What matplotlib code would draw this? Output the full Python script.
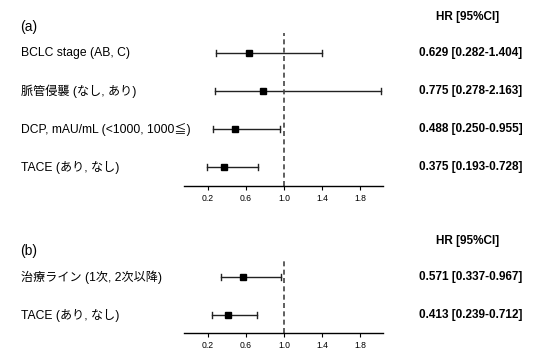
import matplotlib
matplotlib.use('Agg')
import matplotlib.pyplot as plt
from matplotlib.transforms import blended_transform_factory
import numpy as np

plt.rcParams['font.family'] = ['Liberation Sans', 'Noto Sans CJK JP', 'DejaVu Sans']

# panel (a)
labels_a = ['BCLC stage (AB, C)', '脈管侵襲 (なし, あり)', 'DCP, mAU/mL (<1000, 1000≦)', 'TACE (あり, なし)']
hr_a = [0.629, 0.775, 0.488, 0.375]
lo_a = [0.282, 0.278, 0.250, 0.193]
hi_a = [1.404, 2.163, 0.955, 0.728]

# panel (b)
labels_b = ['治療ライン (1次, 2次以降)', 'TACE (あり, なし)']
hr_b = [0.571, 0.413]
lo_b = [0.337, 0.239]
hi_b = [0.967, 0.712]

ticks = [0.2, 0.6, 1.0, 1.4, 1.8]
xlim = (-0.05, 2.04)

W, H = 552, 354
fig = plt.figure(figsize=(W / 100, H / 100), dpi=100)


def panel(rect, tag, labels, hr, lo, hi, ylim):
    ax = fig.add_axes(rect)
    n = len(hr)
    y = np.arange(n)
    hi_c = np.minimum(hi, xlim[1] - 0.02)
    for i in range(n):
        ax.plot([lo[i], hi_c[i]], [y[i], y[i]], color='#222222', lw=1)
        for e in (lo[i], hi_c[i]):
            ax.plot([e, e], [y[i] - 0.07, y[i] + 0.07], color='#222222', lw=1)
    ax.plot(hr, y, 's', color='black', ms=5, zorder=3)
    ax.axvline(1.0, color='#444444', lw=1.2, ls=(0, (3, 2)))
    ax.set_xlim(*xlim)
    ax.set_ylim(*ylim)
    for s in ('top', 'left', 'right'):
        ax.spines[s].set_visible(False)
    ax.spines['bottom'].set_linewidth(1)
    ax.set_yticks([])
    ax.set_xticks(ticks)
    ax.set_xticklabels([f'{t:.1f}' for t in ticks], fontsize=6.2)
    ax.tick_params(axis='x', length=3, width=0.8, pad=3)
    tr = blended_transform_factory(fig.transFigure, ax.transData)
    for i in range(n):
        ax.text(21 / W, y[i], labels[i], transform=tr, fontsize=8.7,
                ha='left', va='center')
        ax.text(471 / W, y[i], f'{hr[i]:.3f} [{lo[i]:.3f}-{hi[i]:.3f}]',
                transform=tr, fontsize=8.5, fontweight='bold', ha='center', va='center')
    ax.text(20 / W, -0.68, tag, transform=tr, fontsize=10, ha='left', va='center')
    ax.text(468 / W, -0.94, 'HR [95%CI]', transform=tr, fontsize=8.5,
            fontweight='bold', ha='center', va='center')
    return ax


x0, x1 = 184 / W, 383 / W
panel([x0, (H - 186) / H, x1 - x0, (186 - 33) / H], '(a)',
      labels_a, hr_a, lo_a, hi_a, (3.5, -0.53))
panel([x0, (H - 333) / H, x1 - x0, (333 - 258) / H], '(b)',
      labels_b, hr_b, lo_b, hi_b, (1.47, -0.5))

fig.savefig('out.png', dpi=100)
